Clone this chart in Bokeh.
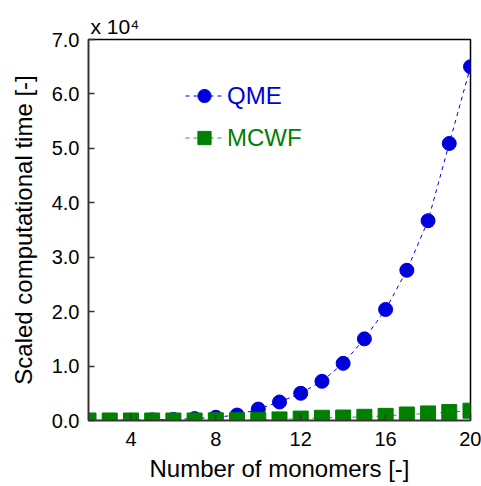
from bokeh.plotting import figure
from bokeh.models import Legend, LegendItem, Title, FixedTicker, PrintfTickFormatter, Range1d
from bokeh.embed import file_html
from bokeh.resources import INLINE

monomers = list(range(2, 21))
qme = [0.001, 0.003, 0.006, 0.012, 0.02, 0.035, 0.06, 0.1, 0.21, 0.34, 0.50, 0.72, 1.05, 1.50, 2.04, 2.76, 3.67, 5.09, 6.50]
mcwf = [0.0, 0.0, 0.0, 0.0, 0.0, 0.0, 0.003, 0.005, 0.01, 0.02, 0.035, 0.05, 0.055, 0.068, 0.085, 0.11, 0.13, 0.155, 0.18]
x_ticks = [4, 8, 12, 16, 20]
y_ticks = [0, 1, 2, 3, 4, 5, 6, 7]

FONT = "Liberation Sans"
BLUE = "#0000dd"
GREEN = "#007f00"

p = figure(width=481, height=486, output_backend="svg", toolbar_location=None,
           x_range=Range1d(2, 20), y_range=Range1d(0, 7),
           min_border_left=88, min_border_top=39, min_border_right=11, min_border_bottom=66)
p.grid.visible = False
p.background_fill_color = "white"
p.border_fill_color = "white"
p.outline_line_color = "black"
p.outline_line_width = 1.5

p.title = Title(text="x 10\u2074", align="left", offset=2, standoff=4,
                text_font=FONT, text_font_size="21px", text_font_style="normal", text_color="black")

for ax in (p.xaxis[0], p.yaxis[0]):
    ax.major_tick_in = 6
    ax.major_tick_out = 0
    ax.minor_tick_in = 0
    ax.minor_tick_out = 0
    ax.axis_line_color = "#333333"
    ax.axis_line_width = 1.5
    ax.major_tick_line_color = "#333333"
    ax.major_tick_line_width = 1.5
    ax.major_label_text_font = FONT
    ax.major_label_text_font_size = "20px"
    ax.major_label_text_color = "black"
    ax.axis_label_text_font = FONT
    ax.axis_label_text_font_size = "24px"
    ax.axis_label_text_font_style = "normal"
    ax.axis_label_text_color = "black"

p.xaxis.ticker = FixedTicker(ticks=x_ticks)
p.yaxis.ticker = FixedTicker(ticks=y_ticks)
p.yaxis.formatter = PrintfTickFormatter(format="%.1f")
p.xaxis.axis_label = "Number of monomers [-]"
p.yaxis.axis_label = "Scaled computational time [-]"
p.xaxis.major_label_standoff = 11
p.yaxis.major_label_standoff = 9
p.xaxis.axis_label_standoff = 6
p.yaxis.axis_label_standoff = 12

l1 = p.line(monomers, qme, line_color=BLUE, line_width=1, line_dash="4 4")
s1 = p.scatter(monomers, qme, marker="circle", size=14, fill_color=BLUE, line_color=BLUE)
l2 = p.line(monomers, mcwf, line_color="#3a9a3a", line_width=1, line_dash="4 4")
s2 = p.scatter(monomers, mcwf, marker="square", size=15, fill_color=GREEN, line_color=GREEN)

def mk_legend(label, rends, color, y):
    lg = Legend(items=[LegendItem(label=label, renderers=rends)], location=(97, y),
                border_line_color=None, background_fill_alpha=0, padding=0, margin=0,
                glyph_width=38, glyph_height=33, label_standoff=4,
                label_text_font=FONT, label_text_font_size="24px", label_text_color=color)
    p.add_layout(lg, "center")

mk_legend("QME", [l1, s1], BLUE, 308)
mk_legend("MCWF", [l2, s2], GREEN, 266)

open("out.html", "w").write(file_html(p, INLINE))
